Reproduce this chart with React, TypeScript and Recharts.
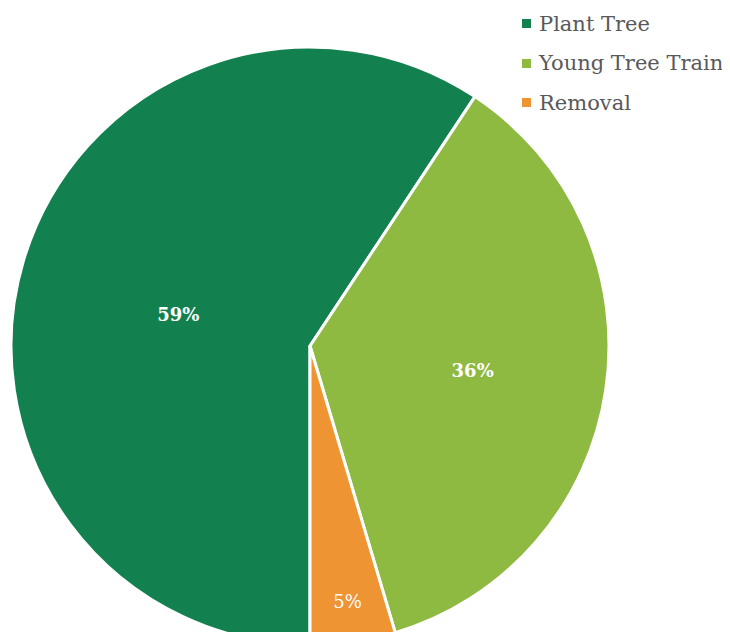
import { PieChart, Pie, Cell, Legend } from "recharts";

const categories = ["Plant Tree", "Young Tree Train", "Removal"];
const shares = [59.3, 36.1, 4.6];
const colors = ["#13814F", "#8FBA42", "#EE9433"];

const data = categories.map((name, i) => ({ name, value: shares[i] }));

const FONT = '"DejaVu Serif", "Liberation Serif", serif';
const RAD = Math.PI / 180;
// how far out each label sits, as a fraction of the radius, plus a small vertical nudge
const labelPos = [0.46, 0.55, 0.87];
const labelNudge = [8, 0, -2];

const renderLabel = (props: any) => {
  const { cx, cy, midAngle, outerRadius, percent, index } = props;
  const r = outerRadius * labelPos[index];
  const x = cx + r * Math.cos(-midAngle * RAD);
  const y = cy + r * Math.sin(-midAngle * RAD) + labelNudge[index];
  return (
    <text
      x={x}
      y={y}
      fill="#fff"
      fontFamily={FONT}
      fontSize={18}
      fontWeight={index === 2 ? "normal" : "bold"}
      textAnchor="middle"
      dominantBaseline="central"
    >
      {Math.round(percent * 100)}%
    </text>
  );
};

const LegendBox = () => (
  <div style={{ fontFamily: FONT, fontSize: 21, color: "#595959" }}>
    {categories.map((c, i) => (
      <div key={c} style={{ display: "flex", alignItems: "center", height: 39.5, whiteSpace: "nowrap" }}>
        <span
          style={{
            width: 9,
            height: 9,
            background: colors[i],
            display: "inline-block",
            marginRight: 8,
            flexShrink: 0,
          }}
        />
        {c}
      </div>
    ))}
  </div>
);

function App() {
  return (
    <div style={{ margin: -8, width: 730, height: 640, overflow: "hidden", background: "#fff" }}>
      <PieChart width={730} height={640} margin={{ top: 0, right: 0, bottom: 0, left: 0 }}>
        <Pie
          data={data}
          dataKey="value"
          nameKey="name"
          cx={310}
          cy={346}
          outerRadius={299}
          startAngle={-90}
          endAngle={-450}
          stroke="#fff"
          strokeWidth={3}
          labelLine={false}
          label={renderLabel}
          isAnimationActive={false}
        >
          {data.map((d, i) => (
            <Cell key={d.name} fill={colors[i]} />
          ))}
        </Pie>
        <Legend
          content={<LegendBox />}
          layout="vertical"
          verticalAlign="top"
          align="right"
          wrapperStyle={{ left: 522, top: 4, width: 208 }}
        />
      </PieChart>
    </div>
  );
}

export default App;
